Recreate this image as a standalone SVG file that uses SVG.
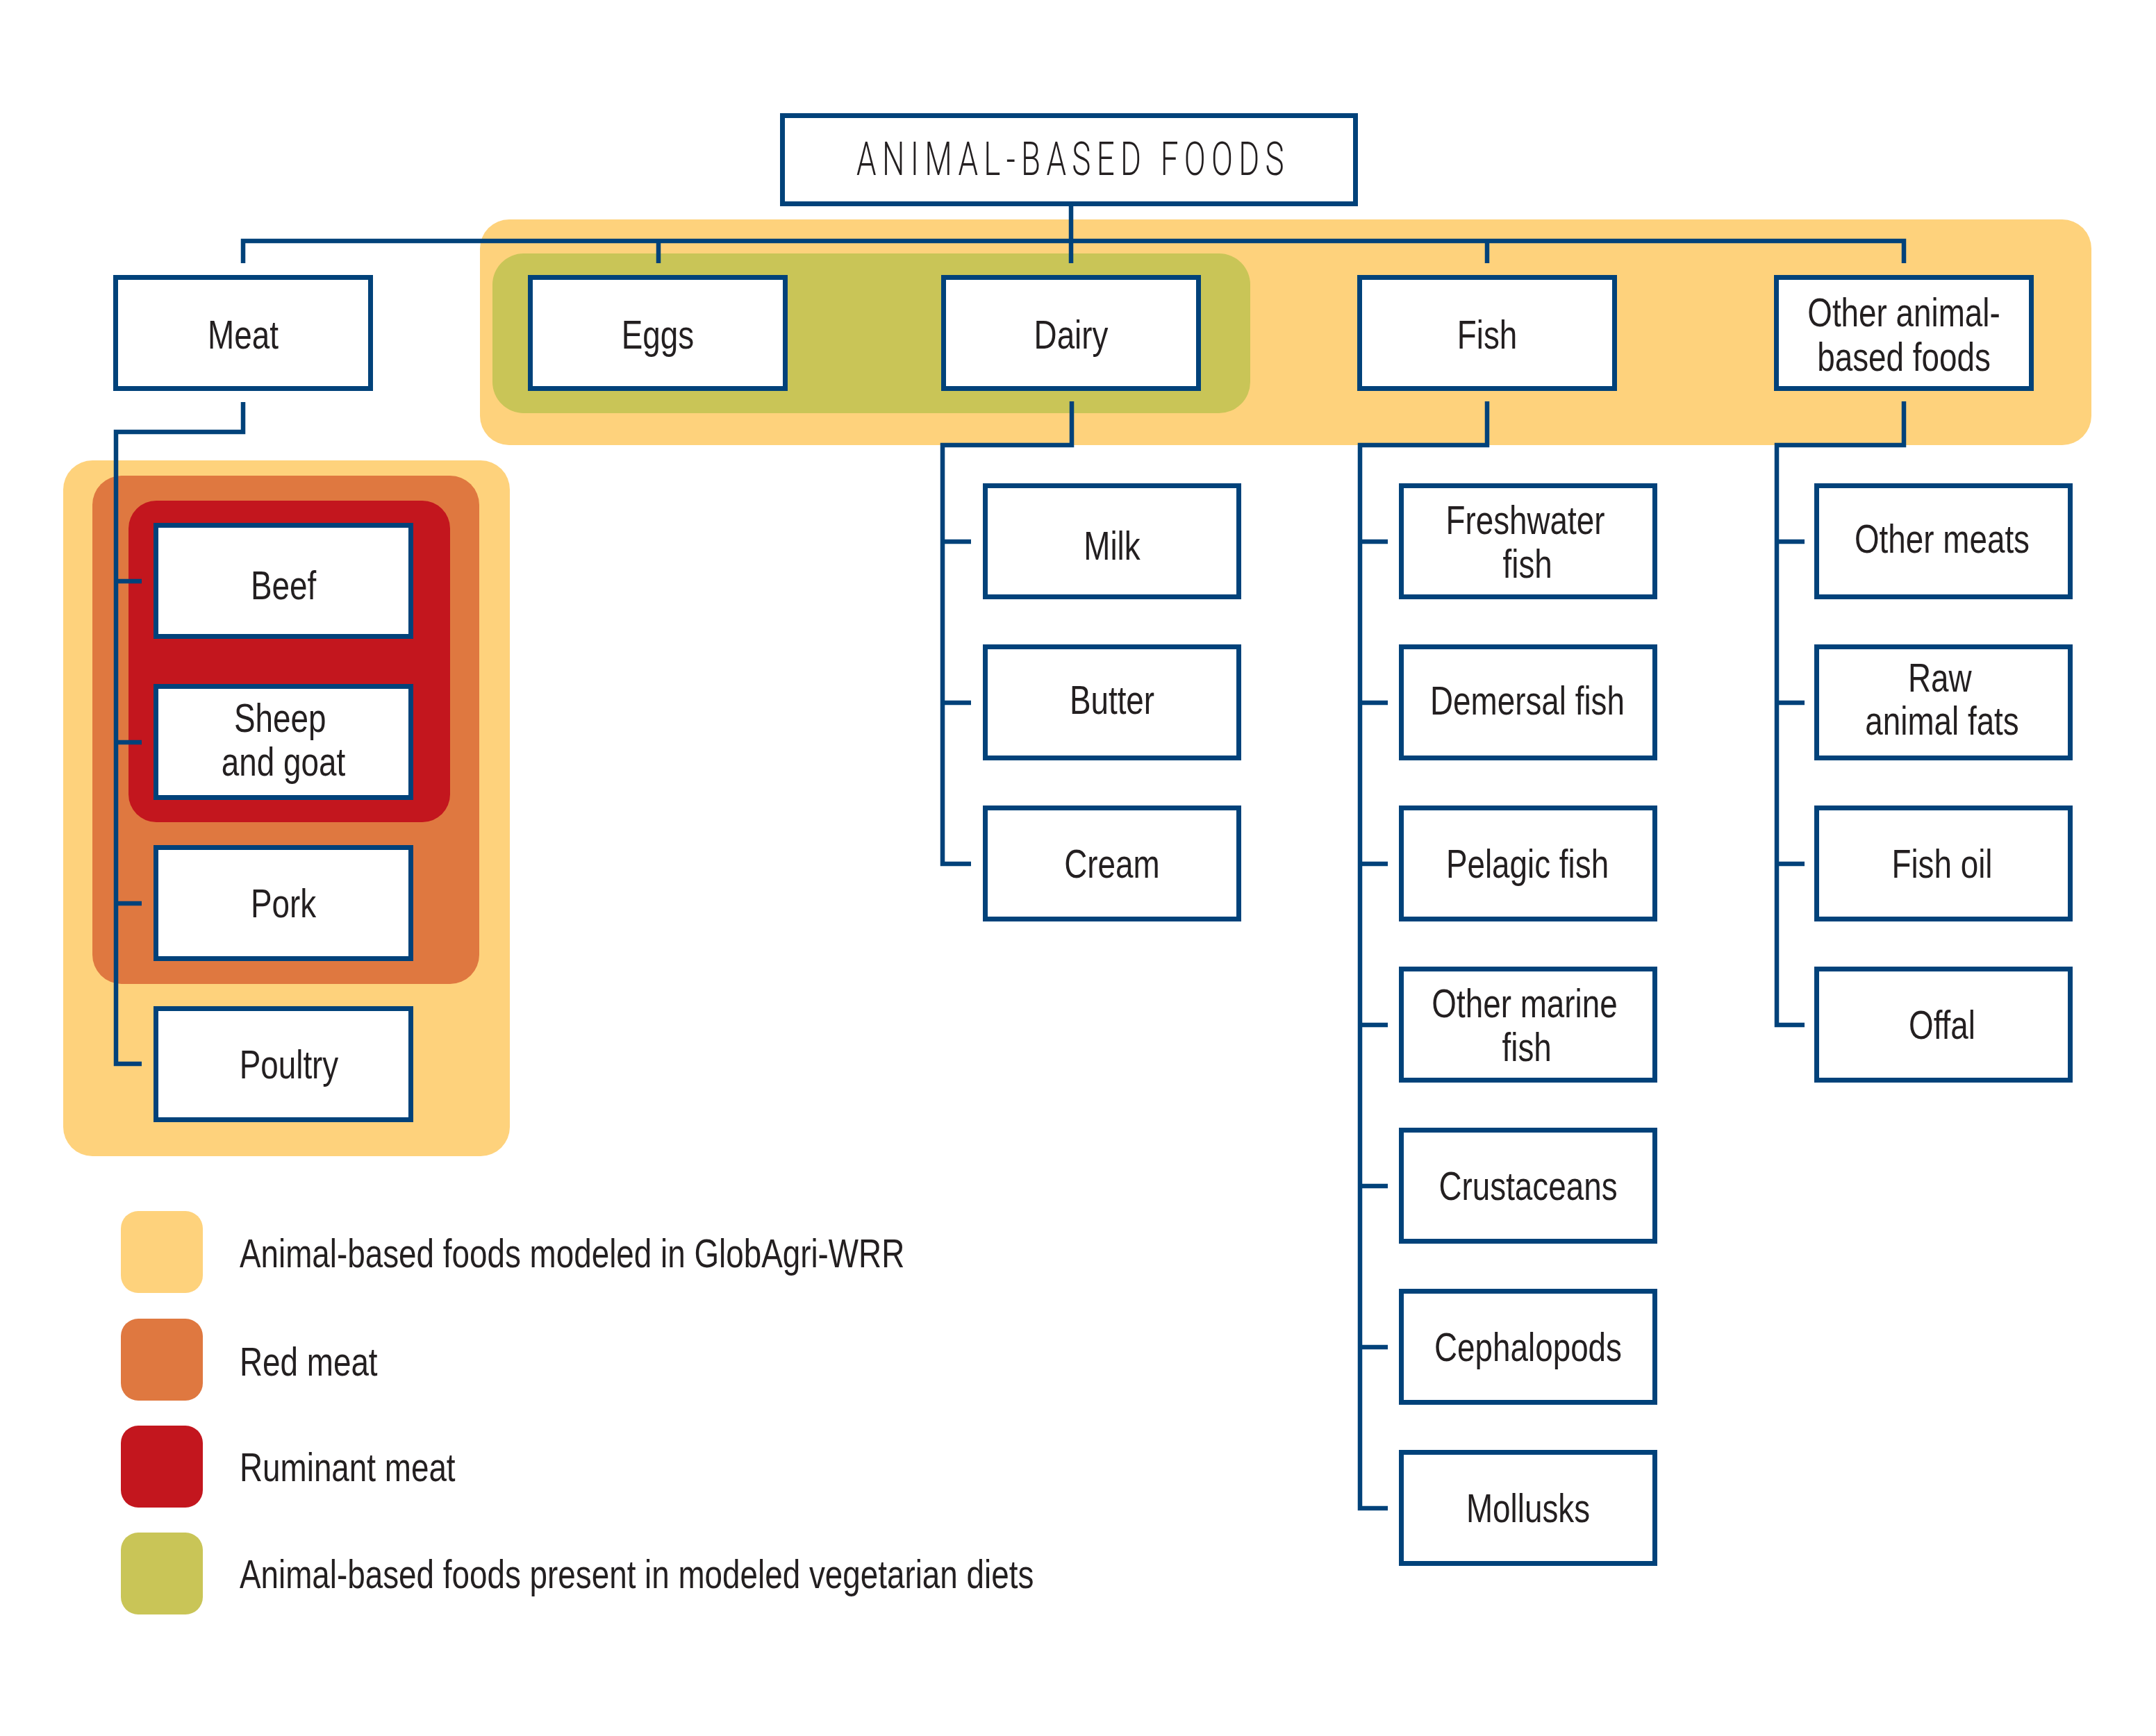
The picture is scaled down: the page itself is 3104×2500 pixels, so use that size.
<svg xmlns="http://www.w3.org/2000/svg" width="3104" height="2500" viewBox="0 0 3104 2500">
<style>
.bx{fill:#fff;stroke:#01427A;stroke-width:7}
.cn{fill:none;stroke:#01427A;stroke-width:6.5}
.t{font-family:"Liberation Sans",Arial,sans-serif;font-size:58px;fill:#231F20;text-anchor:middle}
.lg{font-family:"Liberation Sans",Arial,sans-serif;font-size:58px;fill:#231F20}
.ttl{font-family:Roboto,"Liberation Sans",sans-serif;font-weight:300;font-size:66px;fill:#231F20;letter-spacing:12px}
.yel{fill:#FED27C}.grn{fill:#C9C557}.org{fill:#DF7840}.red{fill:#C3161E}
</style>
<rect width="3104" height="2500" fill="#fff"/>
<g id="backgrounds">
<rect class="yel" x="691" y="316" width="2320" height="325" rx="42"/>
<rect class="grn" x="709" y="365" width="1091" height="230" rx="45"/>
<rect class="yel" x="91" y="663" width="643" height="1002" rx="42"/>
<rect class="org" x="133" y="685" width="557" height="732" rx="42"/>
<rect class="red" x="185" y="721" width="463" height="463" rx="40"/>
</g>
<g id="connectors">
<path class="cn" d="M1542,297 V379"/>
<path class="cn" d="M350,379 V347 H2741 V379"/>
<path class="cn" d="M948,347 V379"/>
<path class="cn" d="M2141,347 V379"/>
<path class="cn" d="M350,579 V622 H167 V1532 H204 M167,837 H204 M167,1069 H204 M167,1301 H204"/>
<path class="cn" d="M1543,578 V641 H1357 V1244 H1398 M1357,780 H1398 M1357,1012 H1398"/>
<path class="cn" d="M2141,578 V641 H1958 V2172 H1998 M1958,780 H1998 M1958,1012 H1998 M1958,1244 H1998 M1958,1476 H1998 M1958,1708 H1998 M1958,1940 H1998"/>
<path class="cn" d="M2741,578 V641 H2558 V1476 H2598 M2558,780 H2598 M2558,1012 H2598 M2558,1244 H2598"/>
</g>
<g id="n-root"><rect class="bx" x="1126.5" y="166.5" width="825" height="127"/><text class="ttl" x="1233" y="252" textLength="624" lengthAdjust="spacingAndGlyphs">ANIMAL-BASED FOODS</text></g>
<g id="n-meat"><rect class="bx" x="166.5" y="399.5" width="367" height="160"/><text class="t" transform="translate(350,502) scale(0.79,1)">Meat</text></g>
<g id="n-eggs"><rect class="bx" x="763.5" y="399.5" width="367" height="160"/><text class="t" transform="translate(947,502) scale(0.79,1)">Eggs</text></g>
<g id="n-dairy"><rect class="bx" x="1358.5" y="399.5" width="367" height="160"/><text class="t" transform="translate(1542,502) scale(0.79,1)">Dairy</text></g>
<g id="n-fish"><rect class="bx" x="1957.5" y="399.5" width="367" height="160"/><text class="t" transform="translate(2141,502) scale(0.79,1)">Fish</text></g>
<g id="n-other"><rect class="bx" x="2557.5" y="399.5" width="367" height="160"/><text class="t" transform="translate(2741,0) scale(0.79,1)"><tspan x="0" y="470">Other animal-</tspan><tspan x="0" y="534">based foods</tspan></text></g>
<g id="n-beef"><rect class="bx" x="224.5" y="756.5" width="367" height="160"/><text class="t" transform="translate(408,863) scale(0.79,1)">Beef</text></g>
<g id="n-sheep"><rect class="bx" x="224.5" y="988.5" width="367" height="160"/><text class="t" transform="translate(408,0) scale(0.79,1)"><tspan x="-6" y="1054">Sheep</tspan><tspan x="0" y="1117">and goat</tspan></text></g>
<g id="n-pork"><rect class="bx" x="224.5" y="1220.5" width="367" height="160"/><text class="t" transform="translate(408,1321) scale(0.79,1)">Pork</text></g>
<g id="n-poultry"><rect class="bx" x="224.5" y="1452.5" width="367" height="160"/><text class="t" transform="translate(416,1553) scale(0.79,1)">Poultry</text></g>
<g id="n-milk"><rect class="bx" x="1418.5" y="699.5" width="365" height="160"/><text class="t" transform="translate(1601,806) scale(0.79,1)">Milk</text></g>
<g id="n-butter"><rect class="bx" x="1418.5" y="931.5" width="365" height="160"/><text class="t" transform="translate(1601,1028) scale(0.79,1)">Butter</text></g>
<g id="n-cream"><rect class="bx" x="1418.5" y="1163.5" width="365" height="160"/><text class="t" transform="translate(1601,1264) scale(0.79,1)">Cream</text></g>
<g id="n-freshwater"><rect class="bx" x="2017.5" y="699.5" width="365" height="160"/><text class="t" transform="translate(2196,0) scale(0.79,1)"><tspan x="0" y="769">Freshwater</tspan><tspan x="4" y="832">fish</tspan></text></g>
<g id="n-demersal"><rect class="bx" x="2017.5" y="931.5" width="365" height="160"/><text class="t" transform="translate(2199,1029) scale(0.79,1)">Demersal fish</text></g>
<g id="n-pelagic"><rect class="bx" x="2017.5" y="1163.5" width="365" height="160"/><text class="t" transform="translate(2199,1264) scale(0.79,1)">Pelagic fish</text></g>
<g id="n-othermarine"><rect class="bx" x="2017.5" y="1395.5" width="365" height="160"/><text class="t" transform="translate(2195,0) scale(0.79,1)"><tspan x="0" y="1465">Other marine</tspan><tspan x="4" y="1528">fish</tspan></text></g>
<g id="n-crustaceans"><rect class="bx" x="2017.5" y="1627.5" width="365" height="160"/><text class="t" transform="translate(2200,1728) scale(0.79,1)">Crustaceans</text></g>
<g id="n-cephalopods"><rect class="bx" x="2017.5" y="1859.5" width="365" height="160"/><text class="t" transform="translate(2200,1960) scale(0.79,1)">Cephalopods</text></g>
<g id="n-mollusks"><rect class="bx" x="2017.5" y="2091.5" width="365" height="160"/><text class="t" transform="translate(2200,2192) scale(0.79,1)">Mollusks</text></g>
<g id="n-othermeats"><rect class="bx" x="2615.5" y="699.5" width="365" height="160"/><text class="t" transform="translate(2796,796) scale(0.79,1)">Other meats</text></g>
<g id="n-rawfats"><rect class="bx" x="2615.5" y="931.5" width="365" height="160"/><text class="t" transform="translate(2796,0) scale(0.79,1)"><tspan x="-4" y="996">Raw</tspan><tspan x="0" y="1058">animal fats</tspan></text></g>
<g id="n-fishoil"><rect class="bx" x="2615.5" y="1163.5" width="365" height="160"/><text class="t" transform="translate(2796,1264) scale(0.79,1)">Fish oil</text></g>
<g id="n-offal"><rect class="bx" x="2615.5" y="1395.5" width="365" height="160"/><text class="t" transform="translate(2796,1496) scale(0.79,1)">Offal</text></g>
<g id="legend">
<rect class="yel" x="174" y="1744" width="118" height="118" rx="25"/>
<rect class="org" x="174" y="1899" width="118" height="118" rx="25"/>
<rect class="red" x="174" y="2053" width="118" height="118" rx="25"/>
<rect class="grn" x="174" y="2207" width="118" height="118" rx="25"/>
<text class="lg" transform="translate(345,1825) scale(0.79,1)">Animal-based foods modeled in GlobAgri-WRR</text>
<text class="lg" transform="translate(345,1981) scale(0.79,1)">Red meat</text>
<text class="lg" transform="translate(345,2133) scale(0.79,1)">Ruminant meat</text>
<text class="lg" transform="translate(345,2287) scale(0.79,1)">Animal-based foods present in modeled vegetarian diets</text>
</g>
</svg>
